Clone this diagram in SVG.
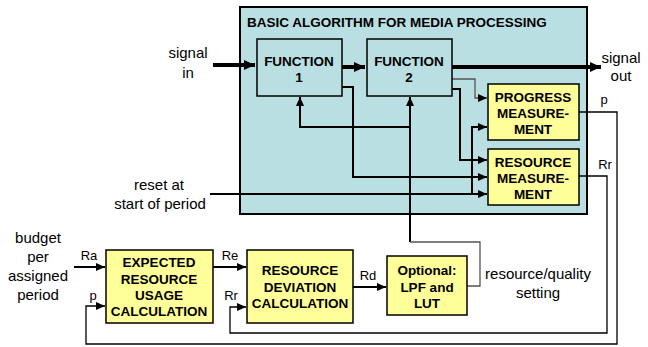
<svg xmlns="http://www.w3.org/2000/svg" width="648" height="347" viewBox="0 0 648 347">
<defs>
<marker id="ah" markerUnits="userSpaceOnUse" markerWidth="9" markerHeight="8" refX="9" refY="4" orient="auto"><path d="M0,0 L9,4 L0,8 z" fill="#000"/></marker>
<marker id="ahb" markerUnits="userSpaceOnUse" markerWidth="11" markerHeight="10" refX="11" refY="5" orient="auto"><path d="M0,0 L11,5 L0,10 z" fill="#000"/></marker>
<style>
.t{font-family:"Liberation Sans",Arial,sans-serif;font-size:15px;fill:#000;text-anchor:middle}
.s{font-family:"Liberation Sans",Arial,sans-serif;font-size:13px;fill:#000;text-anchor:middle}
.b{font-family:"Liberation Sans",Arial,sans-serif;font-size:13.5px;font-weight:bold;fill:#000;text-anchor:middle}
.y{fill:#FFFF99;stroke:#000;stroke-width:1.5}
.f{fill:#BADFE3;stroke:#000;stroke-width:1.5}
.c{fill:none;stroke:#000;stroke-width:2}
.g{fill:none;stroke:#555;stroke-width:1.3}
.k{fill:none;stroke:#000;stroke-width:4}
.o{fill:none;stroke:#000;stroke-width:1.3}
</style>
</defs>
<g id="algorithm">
<rect x="240" y="7" width="347" height="207" fill="#BADFE3" stroke="#000" stroke-width="2"/>
<text x="247" y="27" class="b" style="text-anchor:start">BASIC ALGORITHM FOR MEDIA PROCESSING</text>
</g>
<g id="connectors">
<path class="k" d="M213,65 H255" marker-end="url(#ahb)"/>
<path class="k" d="M342,67 H365" marker-end="url(#ahb)"/>
<path class="k" d="M452,67 H601" marker-end="url(#ahb)"/>
<path class="g" d="M452,79 H475 V98 H487" marker-end="url(#ah)"/>
<path class="c" d="M452,89 H460 V160 H487" marker-end="url(#ah)"/>
<path class="c" d="M342,87 H353 V177 H487" marker-end="url(#ah)"/>
<path class="c" d="M210,194 H487" marker-end="url(#ah)"/>
<path class="c" d="M472,194 V127 H487" marker-end="url(#ah)"/>
<path class="c" d="M410,242 V97" marker-end="url(#ah)"/>
<path class="c" d="M410,127 H300 V97" marker-end="url(#ah)"/>
<path class="g" d="M467,286 H480 V242 H410"/>
<path class="o" d="M579,112 H617 V344 H86 V306 H105" marker-end="url(#ah)"/>
<path class="o" d="M579,176 H607 V333 H230 V307 H246" marker-end="url(#ah)"/>
<path class="c" d="M74,267 H105" marker-end="url(#ah)"/>
<path class="c" d="M213,267 H246" marker-end="url(#ah)"/>
<path class="c" d="M353,287 H386" marker-end="url(#ah)"/>
</g>
<g id="function1">
<rect class="f" x="257" y="39" width="85" height="57"/>
<text class="b" x="299" y="66">FUNCTION</text>
<text class="b" x="299" y="82">1</text>
</g>
<g id="function2">
<rect class="f" x="367" y="39" width="85" height="57"/>
<text class="b" x="409" y="66">FUNCTION</text>
<text class="b" x="409" y="82">2</text>
</g>
<g id="progress">
<rect class="y" x="488" y="84" width="91" height="56"/>
<text class="b" x="533" y="102">PROGRESS</text>
<text class="b" x="533" y="118">MEASURE-</text>
<text class="b" x="533" y="134">MENT</text>
</g>
<g id="resource">
<rect class="y" x="488" y="149" width="91" height="56"/>
<text class="b" x="533" y="167">RESOURCE</text>
<text class="b" x="533" y="183">MEASURE-</text>
<text class="b" x="533" y="199">MENT</text>
</g>
<g id="expected">
<rect class="y" x="106" y="250" width="107" height="73"/>
<text class="b" x="159" y="267">EXPECTED</text>
<text class="b" x="159" y="284">RESOURCE</text>
<text class="b" x="159" y="300">USAGE</text>
<text class="b" x="159" y="316">CALCULATION</text>
</g>
<g id="deviation">
<rect class="y" x="247" y="250" width="106" height="73"/>
<text class="b" x="300" y="275">RESOURCE</text>
<text class="b" x="300" y="292">DEVIATION</text>
<text class="b" x="300" y="308">CALCULATION</text>
</g>
<g id="optional">
<rect class="y" x="387" y="256" width="80" height="59"/>
<text class="b" x="427" y="275">Optional:</text>
<text class="b" x="427" y="292">LPF and</text>
<text class="b" x="427" y="308">LUT</text>
</g>
<g id="labels">
<text class="t" x="188" y="58">signal</text>
<text class="t" x="188" y="78">in</text>
<text class="t" x="621" y="63">signal</text>
<text class="t" x="621" y="81">out</text>
<text class="t" x="159" y="190">reset at</text>
<text class="t" x="160" y="209">start of period</text>
<text class="t" x="38" y="243">budget</text>
<text class="t" x="38" y="262">per</text>
<text class="t" x="38" y="281">assigned</text>
<text class="t" x="38" y="300">period</text>
<text class="t" x="538" y="279">resource/quality</text>
<text class="t" x="538" y="298">setting</text>
<text class="s" x="89" y="260">Ra</text>
<text class="s" x="93" y="300">p</text>
<text class="s" x="230" y="260">Re</text>
<text class="s" x="231" y="300">Rr</text>
<text class="s" x="368" y="280">Rd</text>
<text class="s" x="604" y="104">p</text>
<text class="s" x="605" y="169">Rr</text>
</g>
</svg>
